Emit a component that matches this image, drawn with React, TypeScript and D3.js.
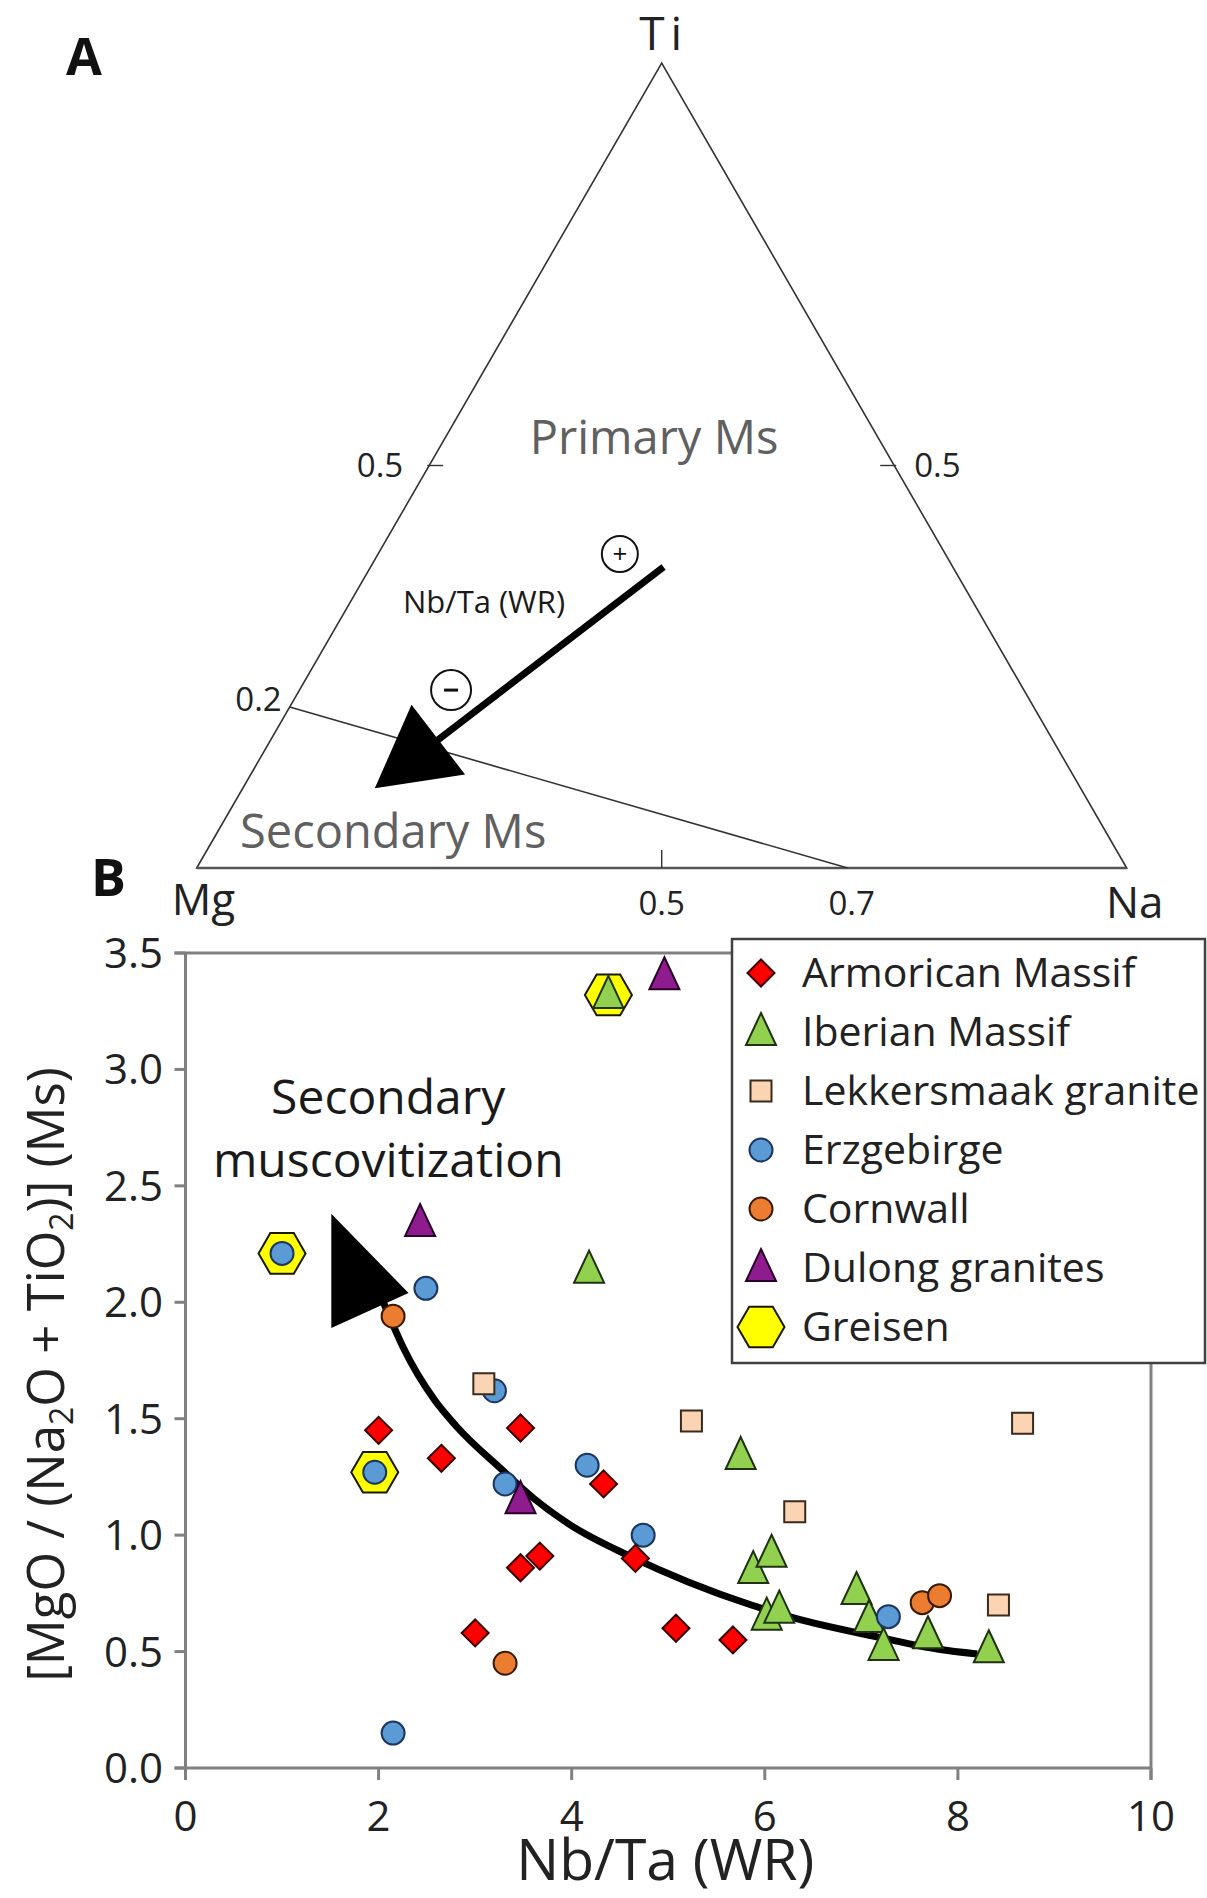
import React from 'react';
import * as d3 from 'd3';

const W = 1207;
const H = 1898;
const FONT = "'Open Sans', 'DejaVu Sans', sans-serif";

// ---------- Panel B data (Nb/Ta WR vs MgO/(Na2O+TiO2) Ms) ----------
const armorican: [number, number][] = [
  [2.0, 1.45], [2.65, 1.33], [3.47, 1.46], [4.33, 1.22], [3.47, 0.86],
  [3.67, 0.91], [3.0, 0.58], [4.66, 0.9], [5.08, 0.6], [5.67, 0.55],
];
const iberian: [number, number][] = [
  [4.38, 3.32], [4.18, 2.14], [5.75, 1.34], [5.88, 0.85], [6.07, 0.92],
  [6.02, 0.65], [6.15, 0.68], [6.95, 0.76], [7.08, 0.64], [7.23, 0.52],
  [7.69, 0.57], [8.32, 0.51],
];
const lekkersmaak: [number, number][] = [
  [3.09, 1.65], [5.24, 1.49], [6.31, 1.1], [8.67, 1.48], [8.42, 0.7],
];
const erzgebirge: [number, number][] = [
  [1.0, 2.21], [2.49, 2.06], [3.2, 1.62], [1.96, 1.27], [3.31, 1.22],
  [4.16, 1.3], [4.74, 1.0], [2.15, 0.15], [7.28, 0.65],
];
const cornwall: [number, number][] = [
  [2.15, 1.94], [3.31, 0.45], [7.63, 0.71], [7.81, 0.74],
];
const dulong: [number, number][] = [
  [4.96, 3.4], [2.43, 2.34], [3.47, 1.15],
];
const greisen: [number, number][] = [
  [4.38, 3.32], [1.0, 2.21], [1.96, 1.27],
];

const xTicks = [0, 2, 4, 6, 8, 10];
const yTicks = [0, 0.5, 1, 1.5, 2, 2.5, 3, 3.5];

// trend curve (data units, ascending Nb/Ta) and arrow head
const trendCurve: [number, number][] = [
  [2.0, 2.05], [2.1, 1.95], [2.25, 1.81], [2.58, 1.58], [2.8, 1.47], [3.28, 1.28],
  [3.6, 1.16], [4.0, 1.04], [4.6, 0.91], [5.2, 0.8], [5.86, 0.7], [6.3, 0.645],
  [7.2, 0.56], [7.8, 0.51], [8.2, 0.49],
];
const trendHead: [number, number][] = [[1.51, 2.38], [1.51, 1.89], [2.31, 2.04]];

// ---------- Panel A (ternary Mg - Ti - Na) ----------
// compositions as [Mg, Ti, Na]
const divideLine: [number, number, number][] = [[0.8, 0.2, 0], [0.3, 0, 0.7]];
const nbTaArrow: [number, number, number][] = [[0.311, 0.374, 0.315], [0.759, 0.099, 0.142]];
const plusMark: [number, number, number] = [0.35, 0.39, 0.26];
const minusMark: [number, number, number] = [0.616, 0.221, 0.163];

type Shape = 'diamond' | 'triangle' | 'square' | 'circle' | 'hexagon';
interface Series { name: string; data: [number, number][]; shape: Shape; fill: string; stroke: string; }

const seriesList: Series[] = [
  { name: 'Armorican Massif', data: armorican, shape: 'diamond', fill: '#FF0000', stroke: '#3a0000' },
  { name: 'Iberian Massif', data: iberian, shape: 'triangle', fill: '#92D050', stroke: '#1f3210' },
  { name: 'Lekkersmaak granite', data: lekkersmaak, shape: 'square', fill: '#FBD4B4', stroke: '#3a2a1c' },
  { name: 'Erzgebirge', data: erzgebirge, shape: 'circle', fill: '#5B9BD5', stroke: '#1c3560' },
  { name: 'Cornwall', data: cornwall, shape: 'circle', fill: '#EC7C30', stroke: '#3a1a04' },
  { name: 'Dulong granites', data: dulong, shape: 'triangle', fill: '#8E1C8E', stroke: '#2a002a' },
  { name: 'Greisen', data: greisen, shape: 'hexagon', fill: '#FFFF00', stroke: '#1a1a00' },
];
// drawing order (back to front)
const drawOrder = ['Greisen', 'Iberian Massif', 'Erzgebirge', 'Lekkersmaak granite', 'Cornwall', 'Armorican Massif', 'Dulong granites'];

function shapePath(shape: Shape): string {
  const p = d3.path();
  if (shape === 'diamond') {
    const r = 13.5;
    p.moveTo(0, -r); p.lineTo(r, 0); p.lineTo(0, r); p.lineTo(-r, 0); p.closePath();
  } else if (shape === 'triangle') {
    p.moveTo(0, -19); p.lineTo(15, 13); p.lineTo(-15, 13); p.closePath();
  } else if (shape === 'square') {
    const s = 10.5;
    p.rect(-s, -s, 2 * s, 2 * s);
  } else if (shape === 'circle') {
    p.arc(0, 0, 11.5, 0, Math.PI * 2);
  } else {
    const r = 23.5;
    for (let i = 0; i < 6; i++) {
      const a = (Math.PI / 3) * i;
      const px = r * Math.cos(a), py = r * Math.sin(a);
      if (i === 0) p.moveTo(px, py); else p.lineTo(px, py);
    }
    p.closePath();
  }
  return p.toString();
}

export default function App() {
  // Panel B scales
  const x = d3.scaleLinear().domain([0, 10]).range([185.5, 1151]);
  const y = d3.scaleLinear().domain([0, 3.5]).range([1768, 953]);

  // Ternary scales: Na(+Ti/2) along base, Ti upward
  const tx = d3.scaleLinear().domain([0, 1]).range([196.7, 1126.7]);
  const ty = d3.scaleLinear().domain([0, 1]).range([868, 63]);
  const tern = (c: [number, number, number]): [number, number] => {
    const s = c[0] + c[1] + c[2];
    const ti = c[1] / s, na = c[2] / s;
    return [tx(na + ti / 2), ty(ti)];
  };
  const mgC = tern([1, 0, 0]);
  const tiC = tern([0, 1, 0]);
  const naC = tern([0, 0, 1]);

  // ternary arrow
  const aStart = tern(nbTaArrow[0]);
  const aTip = tern(nbTaArrow[1]);
  const dx = aTip[0] - aStart[0], dy = aTip[1] - aStart[1];
  const len = Math.hypot(dx, dy);
  const ux = dx / len, uy = dy / len;
  const headL = 80, headW = 44;
  const bx = aTip[0] - ux * headL, by = aTip[1] - uy * headL;
  const headA = [
    [aTip[0], aTip[1]],
    [bx - uy * headW, by + ux * headW],
    [bx + uy * headW, by - ux * headW],
  ];
  const shaftEnd = [aTip[0] - ux * (headL - 10), aTip[1] - uy * (headL - 10)];

  const dl0 = tern(divideLine[0]);
  const dl1 = tern(divideLine[1]);
  const leftMid = tern([0.5, 0.5, 0]);
  const rightMid = tern([0, 0.5, 0.5]);
  const baseMid = tern([0.5, 0, 0.5]);
  const base07 = tern([0.3, 0, 0.7]);
  const plusP = tern(plusMark);
  const minusP = tern(minusMark);

  const curveLine = d3.line<[number, number]>()
    .x(d => x(d[0])).y(d => y(d[1]))
    .curve(d3.curveMonotoneX);

  const headB = trendHead.map(d => `${x(d[0])},${y(d[1])}`).join(' ');

  const ordered = drawOrder.map(n => seriesList.find(s => s.name === n)!);

  const frameColor = '#808080';
  const legendX = 732, legendY = 939, legendW = 473, legendH = 424;
  const legendRow0 = 973, legendStep = 59;

  return (
    <svg width={W} height={H} viewBox={`0 0 ${W} ${H}`}
      style={{ position: 'absolute', left: 0, top: 0, background: '#fff' }}
      fontFamily={FONT}>
      <rect x={0} y={0} width={W} height={H} fill="#fff" />

      {/* ---------------- Panel A ---------------- */}
      <text x={66} y={75} fontSize={52} fontWeight={700} fill="#111">A</text>
      <polygon points={[mgC, tiC, naC].map(p => p.join(',')).join(' ')} fill="none" stroke="#333" strokeWidth={1.6} />
      <line x1={mgC[0]} y1={mgC[1]} x2={naC[0]} y2={naC[1]} stroke="#555" strokeWidth={2.6} />
      <line x1={dl0[0]} y1={dl0[1]} x2={dl1[0]} y2={dl1[1]} stroke="#333" strokeWidth={1.6} />
      {/* ticks */}
      <line x1={leftMid[0] - 2} y1={leftMid[1]} x2={leftMid[0] + 14} y2={leftMid[1]} stroke="#333" strokeWidth={1.4} />
      <line x1={rightMid[0] + 2} y1={rightMid[1]} x2={rightMid[0] - 14} y2={rightMid[1]} stroke="#333" strokeWidth={1.4} />
      <line x1={baseMid[0]} y1={baseMid[1]} x2={baseMid[0]} y2={baseMid[1] - 18} stroke="#333" strokeWidth={1.4} />

      <text x={tiC[0] + 2} y={50} fontSize={46} textAnchor="middle" letterSpacing={6} fill="#222">Ti</text>
      <text x={mgC[0] - 25} y={915} fontSize={44} fill="#222">Mg</text>
      <text x={naC[0] + 8} y={918} fontSize={44} textAnchor="middle" fill="#222">Na</text>
      <text x={baseMid[0]} y={915} fontSize={33} textAnchor="middle" fill="#222">0.5</text>
      <text x={base07[0] + 4} y={915} fontSize={33} textAnchor="middle" fill="#222">0.7</text>
      <text x={leftMid[0] - 26} y={leftMid[1] + 11} fontSize={33} textAnchor="end" fill="#222">0.5</text>
      <text x={rightMid[0] + 20} y={rightMid[1] + 11} fontSize={33} textAnchor="start" fill="#222">0.5</text>
      <text x={dl0[0] - 8} y={dl0[1] + 4} fontSize={33} textAnchor="end" fill="#222">0.2</text>

      <text x={654} y={454} fontSize={47} textAnchor="middle" fill="#606060">Primary Ms</text>
      <text x={240} y={848} fontSize={47} fill="#606060">Secondary Ms</text>
      <text x={484} y={613} fontSize={31} textAnchor="middle" fill="#1a1a1a">Nb/Ta (WR)</text>

      <line x1={aStart[0]} y1={aStart[1]} x2={shaftEnd[0]} y2={shaftEnd[1]} stroke="#000" strokeWidth={7} />
      <polygon points={headA.map(p => p.join(',')).join(' ')} fill="#000" />
      <circle cx={plusP[0]} cy={plusP[1]} r={18} fill="#fff" stroke="#111" strokeWidth={2} />
      <text x={plusP[0]} y={plusP[1] + 9} fontSize={26} textAnchor="middle" fill="#111">+</text>
      <circle cx={minusP[0]} cy={minusP[1]} r={20} fill="#fff" stroke="#111" strokeWidth={2} />
      <line x1={minusP[0] - 7} y1={minusP[1]} x2={minusP[0] + 7} y2={minusP[1]} stroke="#111" strokeWidth={3} />

      {/* ---------------- Panel B ---------------- */}
      <text x={91} y={896} fontSize={52} fontWeight={700} fill="#111">B</text>

      {/* frame */}
      <line x1={x(0) - 11} y1={y(3.5)} x2={x(10)} y2={y(3.5)} stroke={frameColor} strokeWidth={3} />
      <line x1={x(10)} y1={y(3.5)} x2={x(10)} y2={y(0) + 12} stroke={frameColor} strokeWidth={3} />
      <line x1={x(0)} y1={y(3.5)} x2={x(0)} y2={y(0) + 12} stroke={frameColor} strokeWidth={3} />
      <line x1={x(0) - 11} y1={y(0)} x2={x(10)} y2={y(0)} stroke={frameColor} strokeWidth={3} />
      {yTicks.map(t => (
        <g key={'yt' + t}>
          <line x1={x(0) - 11} y1={y(t)} x2={x(0)} y2={y(t)} stroke={frameColor} strokeWidth={3} />
          <text x={163} y={y(t) + 15} fontSize={42} textAnchor="end" fill="#222">{t.toFixed(1)}</text>
        </g>
      ))}
      {xTicks.map(t => (
        <g key={'xt' + t}>
          <line x1={x(t)} y1={y(0)} x2={x(t)} y2={y(0) + 12} stroke={frameColor} strokeWidth={3} />
          <text x={x(t)} y={1831} fontSize={42} textAnchor="middle" fill="#222">{t}</text>
        </g>
      ))}
      <text x={(x(0) + x(10)) / 2 - 3} y={1880} fontSize={57} textAnchor="middle" fill="#222">Nb/Ta (WR)</text>
      <g transform={`translate(64, ${(y(0) + y(3.5)) / 2 + 14}) rotate(-90)`}>
        <text x={0} y={0} fontSize={51} textAnchor="middle" fill="#222">
          [MgO / (Na<tspan fontSize={32} dy={9}>2</tspan><tspan dy={-9}>O + TiO</tspan><tspan fontSize={32} dy={9}>2</tspan><tspan dy={-9}>)] (Ms)</tspan>
        </text>
      </g>

      {/* annotation */}
      <text x={x(2.1)} y={1114} fontSize={48} textAnchor="middle" fill="#1a1a1a">Secondary</text>
      <text x={x(2.1)} y={1177} fontSize={48} textAnchor="middle" fill="#1a1a1a">muscovitization</text>

      <path d={curveLine(trendCurve) || ''} fill="none" stroke="#000" strokeWidth={7} />
      <polygon points={headB} fill="#000" />

      {/* points */}
      {ordered.map(s => (
        <g key={s.name}>
          {s.data.map((d, i) => (
            <path key={i} d={shapePath(s.shape)} transform={`translate(${x(d[0])},${y(d[1])})`}
              fill={s.fill} stroke={s.stroke} strokeWidth={2} />
          ))}
        </g>
      ))}

      {/* legend */}
      <rect x={legendX} y={legendY} width={legendW} height={legendH} fill="#fff" stroke="#404040" strokeWidth={2.5} />
      {seriesList.map((s, i) => {
        const cy = legendRow0 + i * legendStep;
        return (
          <g key={'lg' + s.name}>
            <path d={shapePath(s.shape)} transform={`translate(${legendX + 29},${cy})`} fill={s.fill} stroke={s.stroke} strokeWidth={2} />
            <text x={legendX + 70} y={cy + 14} fontSize={41} fill="#222">{s.name}</text>
          </g>
        );
      })}
    </svg>
  );
}
